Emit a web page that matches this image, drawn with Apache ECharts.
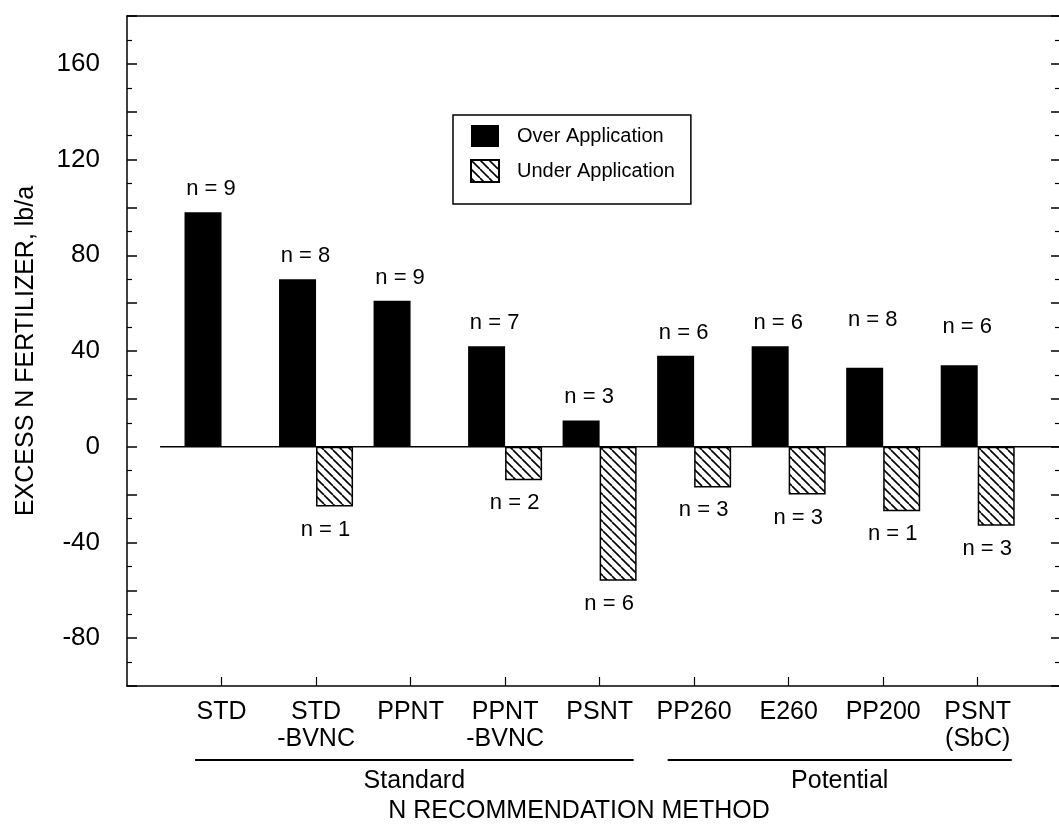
<!DOCTYPE html>
<html><head><meta charset="utf-8">
<script src="https://cdn.jsdelivr.net/npm/echarts@6/dist/echarts.min.js"></script>
<style>html,body{margin:0;padding:0;background:#fff}#c{width:1059px;height:830px}</style>
</head><body><div id="c"></div>
<script>
// ---- data ----
const categories = ['STD', 'STD\n-BVNC', 'PPNT', 'PPNT\n-BVNC', 'PSNT', 'PP260', 'E260', 'PP200', 'PSNT\n(SbC)'];
const overValues = [98, 70, 61, 42, 11, 38, 42, 33, 34];
const underValues = [null, -25, null, -14, -56, -17, -20, -27, -33];
const overN = [9, 8, 9, 7, 3, 6, 6, 8, 6];
const underN = [null, 1, null, 2, 6, 3, 3, 1, 3];
const yTickLabels = [-80, -40, 0, 40, 80, 120, 160];
const groupNames = ['Standard', 'Potential'];
const groupFrom = [1, 6];
const groupTo = [5, 9];
const xTitle = 'N RECOMMENDATION METHOD';
const yTitle = 'EXCESS N FERTILIZER, lb/a';
// label lifts (style only, px)
const overLabelLift = {8: 25, 9: 15};

const FONT = '"Liberation Sans", Arial, Helvetica, sans-serif';
const X_MAX = 9.86;

function hatch() {
  const s = 9;
  const c = document.createElement('canvas');
  c.width = s; c.height = s;
  const g = c.getContext('2d');
  g.fillStyle = '#fff'; g.fillRect(0, 0, s, s);
  g.strokeStyle = '#000'; g.lineWidth = 1.6;
  for (const k of [-1, 0, 1]) {
    g.beginPath(); g.moveTo(k * s, 0); g.lineTo(k * s + s, s); g.stroke();
  }
  return c;
}

const chart = echarts.init(document.getElementById('c'), null, {renderer: 'canvas'});

const overData = overValues.map((v, i) => {
  const item = {value: [i + 1, v]};
  const lift = overLabelLift[i + 1];
  if (lift) item.label = {offset: [8, -lift]};
  return item;
});
const underData = underValues
  .map((v, i) => [i + 1, v])
  .filter(d => d[1] !== null);

const yAxisCommon = {
  type: 'value', min: -100, max: 180, interval: 20,
  splitLine: {show: false}
};

const option = {
  animation: false,
  backgroundColor: '#fff',
  textStyle: {fontFamily: FONT, color: '#000'},
  grid: {left: 127, right: 0, top: 16, bottom: 144, show: false},
  legend: {
    orient: 'vertical', left: 453, top: 115,
    padding: [10, 16, 21, 17],
    borderColor: '#000', borderWidth: 1.5,
    itemWidth: 28, itemHeight: 22, itemGap: 12,
    icon: 'rect',
    textStyle: {fontSize: 20, color: '#000', fontFamily: FONT, padding: [0, 0, 0, 13]},
    data: ['Over Application', 'Under Application']
  },
  xAxis: [
    {
      type: 'value', min: 0, max: X_MAX, interval: 1, position: 'bottom',
      splitLine: {show: false},
      axisLine: {show: true, onZero: false, lineStyle: {color: '#000', width: 1.5}},
      axisTick: {show: true, inside: true, length: 9, lineStyle: {color: '#000', width: 1.2}},
      axisLabel: {
        formatter: v => (Number.isInteger(v) && v >= 1 && v <= categories.length) ? categories[v - 1] : '',
        fontSize: 25, lineHeight: 27, margin: 13, color: '#000', fontFamily: FONT,
        showMinLabel: false, showMaxLabel: false, verticalAlign: 'top'
      }
    },
    {
      type: 'value', min: 0, max: X_MAX, position: 'top',
      splitLine: {show: false},
      axisLine: {show: true, onZero: false, lineStyle: {color: '#000', width: 1.5}},
      axisTick: {show: false}, axisLabel: {show: false}
    }
  ],
  yAxis: [
    Object.assign({}, yAxisCommon, {
      position: 'left',
      axisLine: {show: true, onZero: false, lineStyle: {color: '#000', width: 1.5}},
      axisTick: {show: true, inside: true, length: 10, lineStyle: {color: '#000', width: 1.5}},
      minorTick: {show: true, splitNumber: 2, length: 5, lineStyle: {color: '#000', width: 1.2}},
      axisLabel: {formatter: v => yTickLabels.includes(v) ? String(v) : '',
                  fontSize: 26, color: '#000', margin: 27, fontFamily: FONT},
      name: yTitle, nameLocation: 'middle', nameGap: 88,
      nameTextStyle: {fontSize: 25, color: '#000', fontFamily: FONT}
    }),
    Object.assign({}, yAxisCommon, {
      position: 'right',
      axisLine: {show: false, onZero: false},
      axisTick: {show: true, inside: true, length: 8, lineStyle: {color: '#000', width: 1.5}},
      minorTick: {show: true, splitNumber: 2, length: 4, lineStyle: {color: '#000', width: 1.2}},
      axisLabel: {show: false}
    })
  ],
  series: [
    {
      name: 'Over Application', type: 'bar', data: overData,
      barWidth: 37, barGap: '0%',
      itemStyle: {color: '#000'},
      label: {show: true, position: 'top', distance: 12, offset: [8, 0],
              formatter: p => 'n = ' + overN[p.value[0] - 1],
              fontSize: 22, color: '#000', fontFamily: FONT}
    },
    {
      name: 'Under Application', type: 'bar', data: underData,
      barWidth: 37, barGap: '0%',
      itemStyle: {color: {image: hatch(), repeat: 'repeat'}, borderColor: '#000', borderWidth: 1.5},
      label: {show: true, position: 'bottom', distance: 12, offset: [-9, 0],
              formatter: p => 'n = ' + underN[p.value[0] - 1],
              fontSize: 22, color: '#000', fontFamily: FONT}
    }
  ]
};
chart.setOption(option);

// annotations positioned through the chart's scales
const gfx = [];
const zeroY = chart.convertToPixel({yAxisIndex: 0}, 0);
const zeroX0 = chart.convertToPixel({xAxisIndex: 0}, 0.35);
const zeroX1 = chart.convertToPixel({xAxisIndex: 0}, X_MAX);
gfx.push({type: 'line', z: 1, shape: {x1: zeroX0, y1: zeroY, x2: zeroX1, y2: zeroY},
          style: {stroke: '#000', lineWidth: 1.5}, silent: true});
const lineY = 760, textY = 781;
for (let g = 0; g < groupNames.length; g++) {
  const x0 = chart.convertToPixel({xAxisIndex: 0}, groupFrom[g] - 0.28);
  const x1 = chart.convertToPixel({xAxisIndex: 0}, groupTo[g] + 0.36);
  gfx.push({type: 'line', shape: {x1: x0, y1: lineY, x2: x1, y2: lineY},
            style: {stroke: '#000', lineWidth: 1.8}, silent: true});
  gfx.push({type: 'text', x: (x0 + x1) / 2, y: textY,
            style: {text: groupNames[g], font: '25px ' + FONT, fill: '#000',
                    textAlign: 'center', textVerticalAlign: 'middle'}, silent: true});
}
gfx.push({type: 'text', x: 579, y: 811,
          style: {text: xTitle, font: '25px ' + FONT, fill: '#000',
                  textAlign: 'center', textVerticalAlign: 'middle'}, silent: true});
chart.setOption({graphic: gfx});
</script>
</body></html>
